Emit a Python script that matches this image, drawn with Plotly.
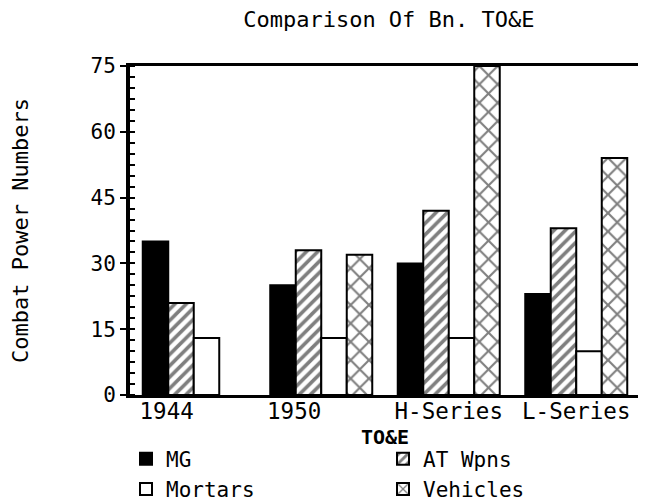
import plotly.graph_objects as go

categories = ["1944", "1950", "H-Series", "L-Series"]
tick_labels = ["1944\u00a0\u00a0\u00a0\u00a0", "1950\u00a0\u00a0\u00a0\u00a0", "H-Series", "L-Series"]
mg = [35, 25, 30, 23]
at_wpns = [21, 33, 42, 38]
mortars = [13, 13, 13, 10]
vehicles = [None, 32, 75, 54]

FONT = "DejaVu Sans Mono"
line = dict(color="black", width=2)

fig = go.Figure()
fig.add_bar(name="MG", x=categories, y=mg,
            marker=dict(color="black", line=line))
fig.add_bar(name="AT Wpns", x=categories, y=at_wpns,
            marker=dict(color="white", line=line,
                        pattern=dict(shape="/", fgcolor="black", bgcolor="white",
                                     size=8, solidity=0.45)))
fig.add_bar(name="Mortars", x=categories, y=mortars,
            marker=dict(color="white", line=line))
fig.add_bar(name="Vehicles", x=categories, y=vehicles,
            marker=dict(color="white", line=line,
                        pattern=dict(shape="x", fgcolor="black", bgcolor="white",
                                     size=13, solidity=0.3)))

# page body adds an 8px margin; figure sized so it fits the 646x502 window
fig.update_layout(
    width=638, height=494,
    margin=dict(l=122, r=6, t=58, b=107, autoexpand=False),
    paper_bgcolor="white", plot_bgcolor="white",
    font=dict(family=FONT, color="black", size=19),
    barmode="group", bargap=0.2, bargroupgap=0,
    title=dict(text="Comparison Of Bn. TO&E", x=0.597, xref="container",
               xanchor="center", y=0.977, yref="container", yanchor="middle",
               font=dict(family=FONT, size=22)),
    showlegend=True,
    legend=dict(orientation="h", x=0.185, xref="container", xanchor="left",
                y=0.1285, yref="container", yanchor="top",
                entrywidth=212, entrywidthmode="pixels",
                font=dict(family=FONT, size=21), traceorder="normal",
                itemsizing="constant", tracegroupgap=0),
)
# x-axis title placed as an annotation below the tick labels
fig.add_annotation(text="TO&E", x=0.5, xref="paper", y=-42 / 329, yref="paper",
                   yanchor="middle", showarrow=False,
                   font=dict(family=FONT, size=20, weight="bold"))
fig.update_xaxes(
    type="category", tickvals=categories, ticktext=tick_labels,
    showline=True, linecolor="black", linewidth=3, mirror=True,
    ticks="", showgrid=False, tickfont=dict(family=FONT, size=22.5),
    ticklabelstandoff=-6, automargin=False,
)
fig.update_yaxes(
    range=[0, 75], tickvals=[0, 15, 30, 45, 60, 75],
    showline=True, linecolor="black", linewidth=4,
    ticks="outside", ticklen=6, tickwidth=2, tickcolor="black",
    minor=dict(dtick=2.5, ticks="inside", ticklen=5, tickwidth=2, tickcolor="black"),
    showgrid=False, zeroline=False, tickfont=dict(family=FONT, size=21),
    automargin=False,
    title=dict(text="Combat Power Numbers", standoff=57, font=dict(family=FONT, size=22)),
)

fig.write_html("out.html")
